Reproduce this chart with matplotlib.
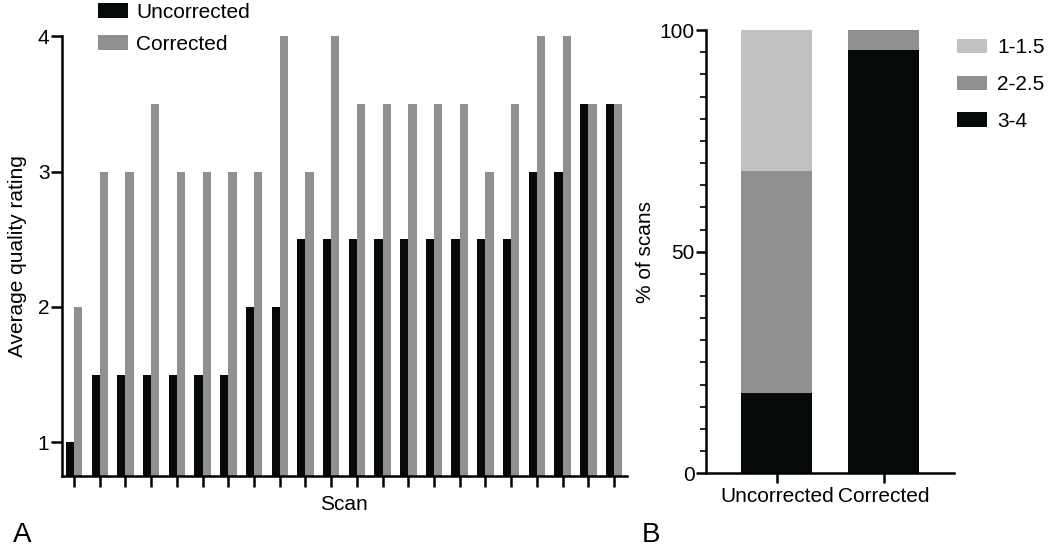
import numpy as np
import matplotlib
matplotlib.use("Agg")
import matplotlib.pyplot as plt
from matplotlib.ticker import MultipleLocator

plt.rcParams["font.family"] = ["Liberation Sans", "DejaVu Sans"]
plt.rcParams["font.size"] = 15

# Panel A data: average quality rating per scan
uncorrected = [1, 1.5, 1.5, 1.5, 1.5, 1.5, 1.5, 2, 2, 2.5, 2.5,
               2.5, 2.5, 2.5, 2.5, 2.5, 2.5, 2.5, 3, 3, 3.5, 3.5]
corrected = [2, 3, 3, 3.5, 3, 3, 3, 3, 4, 3, 4,
             3.5, 3.5, 3.5, 3.5, 3.5, 3, 3.5, 4, 4, 3.5, 3.5]

# Panel B data: % of scans per rating band
groups = ["Uncorrected", "Corrected"]
bands = ["1-1.5", "2-2.5", "3-4"]
pct_low = [31.8, 0.0]
pct_mid = [50.0, 4.55]
pct_high = [18.2, 95.45]

BLACK = "#060909"
GREY = "#909090"
LIGHT = "#c1c1c1"

fig = plt.figure(figsize=(10.5, 5.49), dpi=100)

# ---- Panel A
ax1 = fig.add_axes([0.059, 0.133, 0.538, 0.801])
x = np.arange(len(uncorrected))
w = 0.32
ax1.bar(x - w / 2, uncorrected, w, color=BLACK, label="Uncorrected")
ax1.bar(x + w / 2, corrected, w, color=GREY, label="Corrected")
ax1.set_ylim(0.75, 4)
ax1.set_xlim(-0.47, 21.5)
ax1.set_yticks([1, 2, 3, 4])
ax1.set_xticks(x)
ax1.set_xticklabels([])
ax1.spines[["top", "right"]].set_visible(False)
for s in ["left", "bottom"]:
    ax1.spines[s].set_linewidth(1.8)
ax1.tick_params(axis="y", length=8, width=1.8, pad=1)
ax1.tick_params(axis="x", length=8, width=1.8)
ax1.set_ylabel("Average quality rating", labelpad=8)
ax1.set_xlabel("Scan", labelpad=2)
ax1.legend(loc="upper left", bbox_to_anchor=(0.093, 0.995), bbox_transform=fig.transFigure,
           frameon=False, borderpad=0, handlelength=1.45, handleheight=0.7,
           handletextpad=0.4, labelspacing=0.62, borderaxespad=0)

# ---- Panel B
ax2 = fig.add_axes([0.672, 0.138, 0.237, 0.807])
xb = np.arange(len(groups))
bw = 0.66
ax2.bar(xb, pct_high, bw, color=BLACK, label=bands[2])
ax2.bar(xb, pct_mid, bw, bottom=pct_high, color=GREY, label=bands[1])
ax2.bar(xb, pct_low, bw, bottom=np.add(pct_high, pct_mid), color=LIGHT, label=bands[0])
ax2.set_xlim(-0.665, 1.66)
ax2.set_ylim(0, 100)
ax2.set_yticks([0, 50, 100])
ax2.yaxis.set_minor_locator(MultipleLocator(5))
ax2.set_xticks(xb)
ax2.set_xticklabels(groups)
ax2.spines[["top", "right"]].set_visible(False)
for s in ["left", "bottom"]:
    ax2.spines[s].set_linewidth(1.8)
ax2.tick_params(axis="y", which="major", length=7, width=1.8, pad=1)
ax2.tick_params(axis="y", which="minor", length=4, width=1.2)
ax2.tick_params(axis="x", length=7, width=1.8, pad=3)
ax2.set_ylabel("% of scans", labelpad=3)
h, l = ax2.get_legend_handles_labels()
ax2.legend(h[::-1], l[::-1], loc="upper left", bbox_to_anchor=(0.911, 0.93),
           bbox_transform=fig.transFigure, frameon=False, borderpad=0,
           handlelength=1.45, handleheight=0.7, handletextpad=0.5,
           labelspacing=0.85, borderaxespad=0)

fig.text(0.012, 0.012, "A", fontsize=20)
fig.text(0.611, 0.012, "B", fontsize=20)

fig.savefig("out.png", dpi=100)
